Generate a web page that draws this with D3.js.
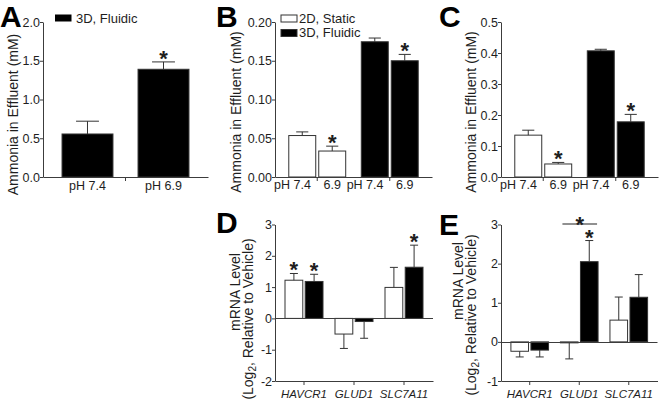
<!DOCTYPE html>
<html><head><meta charset="utf-8">
<script src="https://cdn.jsdelivr.net/npm/d3@7"></script>
<style>
body{margin:0;background:#fff;}
svg{display:block;font-family:"Liberation Sans",Arial,Helvetica,sans-serif;}
</style></head><body>
<svg id="chart" width="660" height="404"></svg>
<script>
// ---------- data ----------
const seriesNames = ["2D, Static", "3D, Fluidic"];
const aCategories = ["pH 7.4", "pH 6.9"];
const aFluidic = [0.555, 1.39];
const aFluidicErr = [0.165, 0.095];
const aSig = [false, true];
const yTicksA = [0, 0.5, 1.0, 1.5, 2.0];

const bcLabels = ["pH 7.4", "6.9", "pH 7.4", "6.9"];
const bcSeries = ["2D, Static", "2D, Static", "3D, Fluidic", "3D, Fluidic"];
const bValues = [0.0535, 0.0335, 0.1745, 0.150];
const bErr = [0.0047, 0.0063, 0.0048, 0.0082];
const bSig = [false, true, false, true];
const yTicksB = [0, 0.05, 0.10, 0.15, 0.20];

const cValues = [0.135, 0.042, 0.407, 0.178];
const cErr = [0.016, 0.005, 0.005, 0.024];
const cSig = [false, true, false, true];
const yTicksC = [0, 0.1, 0.2, 0.3, 0.4, 0.5];

const genes = ["HAVCR1", "GLUD1", "SLC7A11"];
const dStatic = [1.22, -0.50, 0.99];
const dStaticErr = [0.215, 0.46, 0.64];
const dFluidic = [1.18, -0.10, 1.635];
const dFluidicErr = [0.23, 0.535, 0.705];
const dSigStatic = [true, false, false];
const dSigFluidic = [true, false, true];
const yTicksD = [-2, -1, 0, 1, 2, 3];

const eStatic = [-0.24, -0.025, 0.556];
const eStaticErr = [0.145, 0.41, 0.59];
const eFluidic = [-0.21, 2.05, 1.14];
const eFluidicErr = [0.175, 0.54, 0.58];
const eSigStatic = [false, false, false];
const eSigFluidic = [false, true, false];
const eBracketGene = "GLUD1";
const eBracketLevel = 3.0;
const yTicksE = [-1, 0, 1, 2, 3];

const yLabelAmmonia = "Ammonia in Effluent (mM)";
const yLabelMrna1 = "mRNA Level";
const yLabelMrna2 = ["(Log", "2", ", Relative to Vehicle)"];

// ---------- styles ----------
const fills = {"2D, Static": "#ffffff", "3D, Fluidic": "#000000"};
const AX = "#3c3c3c", TXT = "#1e1e1e";
const svg = d3.select("#chart");

function styleAxis(g, fs) {
  g.selectAll("path,line").attr("stroke", AX).attr("stroke-width", 1);
  g.selectAll("text").attr("fill", TXT).attr("font-size", fs)
    .attr("font-family", '"Liberation Sans",Arial,sans-serif');
}
const fmtSigned = d => (d < 0 ? "-" + Math.abs(d) : String(d));

function drawYAxis(x0, y, ticks, fmt) {
  const g = svg.append("g").attr("transform", `translate(${x0},0)`)
    .call(d3.axisLeft(y).tickValues(ticks).tickFormat(fmt).tickSize(3).tickSizeOuter(0).tickPadding(0));
  styleAxis(g, "12.5px");
  return g;
}

function measure(txt, size) {
  const t = svg.append("text").attr("font-size", size).text(txt);
  const w = t.node().getComputedTextLength();
  t.remove();
  return w;
}

function star(x, yBase) {
  svg.append("text").attr("x", x).attr("y", yBase).attr("text-anchor", "middle")
    .attr("font-size", "22px").attr("font-weight", "bold").attr("fill", TXT).text("*");
}

function bar(x, w, y, v, err, series, sig) {
  const y0 = y(0), yv = y(v);
  svg.append("rect").attr("x", x).attr("y", Math.min(y0, yv)).attr("width", w)
    .attr("height", Math.max(0.5, Math.abs(yv - y0)))
    .attr("fill", fills[series]).attr("stroke", "#333").attr("stroke-width", 1);
  const ye = y(v >= 0 ? v + err : v - err);
  const cx = x + w / 2, cw = Math.max(8, w * 0.45);
  svg.append("line").attr("x1", cx).attr("x2", cx).attr("y1", yv).attr("y2", ye)
    .attr("stroke", "#333").attr("stroke-width", 1);
  svg.append("line").attr("x1", cx - cw / 2).attr("x2", cx + cw / 2).attr("y1", ye).attr("y2", ye)
    .attr("stroke", "#333").attr("stroke-width", 1);
  if (sig) star(cx, Math.min(ye, y0) + 4);
}

function rotLabel(x, yc, text, size) {
  svg.append("text").attr("transform", `translate(${x},${yc}) rotate(-90)`)
    .attr("text-anchor", "middle").attr("font-size", size).attr("fill", TXT).text(text);
}

function letter(t, x, y) {
  svg.append("text").attr("x", x).attr("y", y).attr("font-size", "30px").attr("font-weight", "bold")
    .attr("fill", "#000").text(t);
}

// ---------- Panel A ----------
(function () {
  const y = d3.scaleLinear().domain([0, 2]).range([177, 22]);
  const outer = d3.scaleBand().domain([seriesNames[1]]).range([43, 208]).paddingInner(0).paddingOuter(0.15);
  const inner = d3.scaleBand().domain(aCategories).range([0, outer.bandwidth()]).paddingInner(0.33);
  aCategories.forEach((c, i) => bar(outer(seriesNames[1]) + inner(c), inner.bandwidth(), y, aFluidic[i], aFluidicErr[i], seriesNames[1], aSig[i]));
  drawYAxis(43, y, yTicksA, d3.format(".1f"));
  const gx = svg.append("g").attr("transform", `translate(0,${y(0)})`)
    .call(d3.axisBottom(outer).tickSize(4).tickSizeOuter(0).tickFormat(""));
  styleAxis(gx, "12.5px");
  aCategories.forEach(c => {
    svg.append("text").attr("x", outer(seriesNames[1]) + inner(c) + inner.bandwidth() / 2).attr("y", 190)
      .attr("text-anchor", "middle").attr("font-size", "12.5px").attr("fill", TXT).text(c);
  });
  rotLabel(18, 114.5, yLabelAmmonia, "14px");
  svg.append("rect").attr("x", 55).attr("y", 14.5).attr("width", 16.5).attr("height", 7).attr("fill", "#000");
  svg.append("text").attr("x", 76).attr("y", 22.5).attr("font-size", "13px").attr("fill", TXT).text(seriesNames[1]);
  letter("A", 0, 27);
})();

// ---------- Panels B & C ----------
function ammoniaPanel(x0, x1, max, ticks, fmt, vals, errs, sig, labelX, legend, L, lx) {
  const y = d3.scaleLinear().domain([0, max]).range([177, 22]);
  const outer = d3.scaleBand().domain(seriesNames).range([x0, x1]).paddingInner(0.215).paddingOuter(0.19);
  const inner = d3.scaleBand().domain([0, 1]).range([0, outer.bandwidth()]).paddingInner(0.1);
  bcLabels.forEach((lab, i) => {
    const s = bcSeries[i], k = i % 2;
    const bx = outer(s) + inner(k), bw = inner.bandwidth();
    bar(bx, bw, y, vals[i], errs[i], s, sig[i]);
    const num = lab.replace("pH ", "");
    const nw = measure(num, "12.5px");
    svg.append("text").attr("x", bx + bw / 2 + nw / 2).attr("y", 189).attr("text-anchor", "end")
      .attr("font-size", "12.5px").attr("fill", TXT).text(lab);
  });
  drawYAxis(x0, y, ticks, fmt);
  const gx = svg.append("g").attr("transform", `translate(0,${y(0)})`)
    .call(d3.axisBottom(outer).tickSize(4).tickSizeOuter(0).tickFormat(""));
  styleAxis(gx, "12.5px");
  rotLabel(labelX, 112, yLabelAmmonia, "14px");
  if (legend) {
    seriesNames.forEach((s, i) => {
      svg.append("rect").attr("x", x0 + 6).attr("y", 15 + i * 14.5).attr("width", 16).attr("height", 7)
        .attr("fill", fills[s]).attr("stroke", "#333").attr("stroke-width", 1);
      svg.append("text").attr("x", x0 + 24).attr("y", 22.5 + i * 14.5).attr("font-size", "13px").attr("fill", TXT).text(s);
    });
  }
  letter(L, lx, 27);
}
ammoniaPanel(275, 432, 0.20, yTicksB, d3.format(".2f"), bValues, bErr, bSig, 241, true, "B", 216);
ammoniaPanel(501, 658, 0.5, yTicksC, d3.format(".1f"), cValues, cErr, cSig, 476, false, "C", 439);

// ---------- Panels D & E ----------
function mrnaPanel(x0, x1, ymin, ticks, st, stE, fl, flE, sigS, sigF, lab1, lab2, yc1, yc2, L, lx, ly, bracket) {
  const y = d3.scaleLinear().domain([ymin, 3]).range([381, 224.5]);
  const outer = d3.scaleBand().domain(genes).range([x0, x1]).paddingInner(0.24).paddingOuter(0.2);
  const inner = d3.scaleBand().domain(seriesNames).range([0, outer.bandwidth()]).paddingInner(0.12);
  genes.forEach((g, i) => {
    bar(outer(g) + inner(seriesNames[0]), inner.bandwidth(), y, st[i], stE[i], seriesNames[0], sigS[i]);
    bar(outer(g) + inner(seriesNames[1]), inner.bandwidth(), y, fl[i], flE[i], seriesNames[1], sigF[i]);
  });
  svg.append("line").attr("x1", x0).attr("x2", x1).attr("y1", Math.round(y(0)) + 0.5).attr("y2", Math.round(y(0)) + 0.5)
    .attr("stroke", AX).attr("stroke-width", 1);
  drawYAxis(x0, y, ticks, fmtSigned);
  const gx = svg.append("g").attr("transform", `translate(0,${y(ymin)})`)
    .call(d3.axisBottom(outer).tickSize(4).tickSizeOuter(0).tickPadding(5));
  styleAxis(gx, "11.5px");
  gx.selectAll("text").attr("font-style", "italic");
  // axis titles
  rotLabel(lab1, yc1, yLabelMrna1, "14px");
  const t = svg.append("text").attr("transform", `translate(${lab2},${yc2}) rotate(-90)`)
    .attr("text-anchor", "middle").attr("font-size", "14px").attr("fill", TXT);
  t.append("tspan").text(yLabelMrna2[0]);
  t.append("tspan").attr("font-size", "10px").attr("dy", 3).text(yLabelMrna2[1]);
  t.append("tspan").attr("dy", -3).text(yLabelMrna2[2]);
  if (bracket) {
    const xa = outer(bracket.gene) + inner(seriesNames[0]) + 2;
    const xb = outer(bracket.gene) + inner(seriesNames[1]) + inner.bandwidth() - 1;
    const yb = y(bracket.level) - 0.5;
    svg.append("line").attr("x1", xa).attr("x2", xb).attr("y1", yb).attr("y2", yb).attr("stroke", "#222").attr("stroke-width", 1.2);
    star((xa + xb) / 2, yb + 7.5);
  }
  letter(L, lx, ly);
}
mrnaPanel(275, 433, -2, yTicksD, dStatic, dStaticErr, dFluidic, dFluidicErr, dSigStatic, dSigFluidic,
  240, 253, 292, 319, "D", 216, 233, null);
mrnaPanel(501, 657.5, -1, yTicksE, eStatic, eStaticErr, eFluidic, eFluidicErr, eSigStatic, eSigFluidic,
  463, 476, 281, 315, "E", 439, 235, {gene: eBracketGene, level: eBracketLevel});
</script>
</body></html>
